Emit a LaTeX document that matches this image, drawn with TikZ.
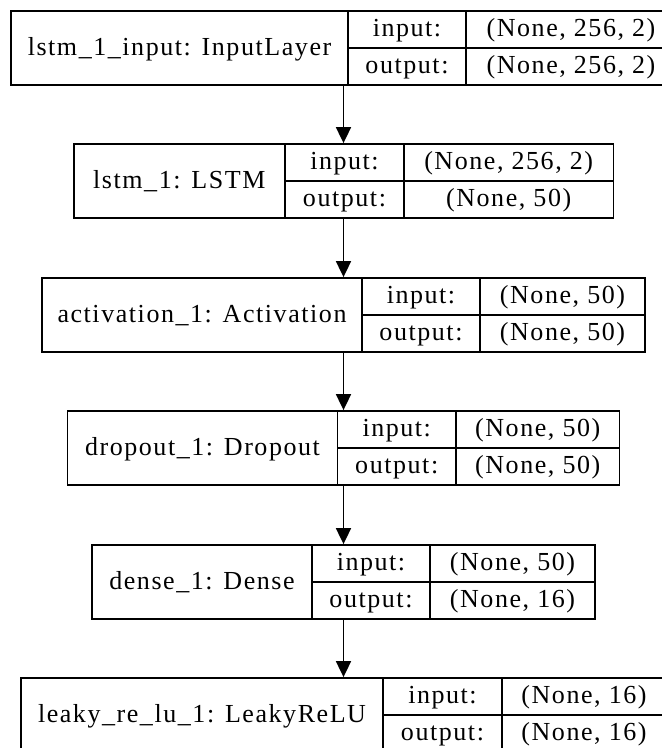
\documentclass[tikz,border=0pt]{standalone}
\usepackage{fontspec}
\setmainfont{Liberation Serif}[LetterSpace=6]
\usetikzlibrary{arrows.meta}

% One layer record: #1 name, #2 top edge, #3 left edge, #4 first divider,
% #5 second divider, #6 layer label, #7 input shape, #8 output shape.
% Every record is centred on x = 343.5, so its right edge is 687 - left.
\newcommand\layerrecord[8]{%
  \node[layerbox, minimum width={687pt-2*#3pt}] (#1) at (343.5,#2+37) {};
  \draw[rule] (#4,#2) -- (#4,#2+74);
  \draw[rule] (#5,#2) -- (#5,#2+74);
  \draw[rule] (#4,#2+37) -- (687-#3,#2+37);
  \node[txt] (#1-label) at ({(#3+#4)/2},#2+37) {#6};
  \node[txt] (#1-inkey)  at ({(#4+#5)/2},#2+18.5) {input:};
  \node[txt] (#1-outkey) at ({(#4+#5)/2},#2+55.5) {output:};
  \node[txt] (#1-inval)  at ({(#5+687-#3)/2},#2+18.5) {#7};
  \node[txt] (#1-outval) at ({(#5+687-#3)/2},#2+55.5) {#8};
}

\begin{document}
\begin{tikzpicture}[x=1pt,y=-1pt,
  layerbox/.style={draw, line width=1.8pt, rectangle, inner sep=0pt, minimum height=74pt},
  rule/.style={line width=1.8pt},
  txt/.style={font=\fontsize{26}{26}\selectfont, inner sep=0pt, text height=14pt, text depth=0pt},
  flow/.style={line width=1.8pt, -{Triangle[length=16pt,width=15pt]}}]
\useasboundingbox (0,0) rectangle (662,748);

\layerrecord{inlayer}{11}{11}{348}{466}{lstm\_1\_input: InputLayer}{(None, 256, 2)}{(None, 256, 2)}
\layerrecord{lstm}{144}{73.6}{285}{404}{lstm\_1: LSTM}{(None, 256, 2)}{(None, 50)}
\layerrecord{act}{278}{42}{362}{480}{activation\_1: Activation}{(None, 50)}{(None, 50)}
\layerrecord{drop}{411}{67.5}{337.5}{456}{dropout\_1: Dropout}{(None, 50)}{(None, 50)}
\layerrecord{dense}{545}{92}{312}{430}{dense\_1: Dense}{(None, 50)}{(None, 16)}
\layerrecord{leaky}{678}{21}{383}{502}{leaky\_re\_lu\_1: LeakyReLU}{(None, 16)}{(None, 16)}

\draw[flow] (inlayer.south) -- (lstm.north);
\draw[flow] (lstm.south) -- (act.north);
\draw[flow] (act.south) -- (drop.north);
\draw[flow] (drop.south) -- (dense.north);
\draw[flow] (dense.south) -- (leaky.north);
\end{tikzpicture}
\end{document}
